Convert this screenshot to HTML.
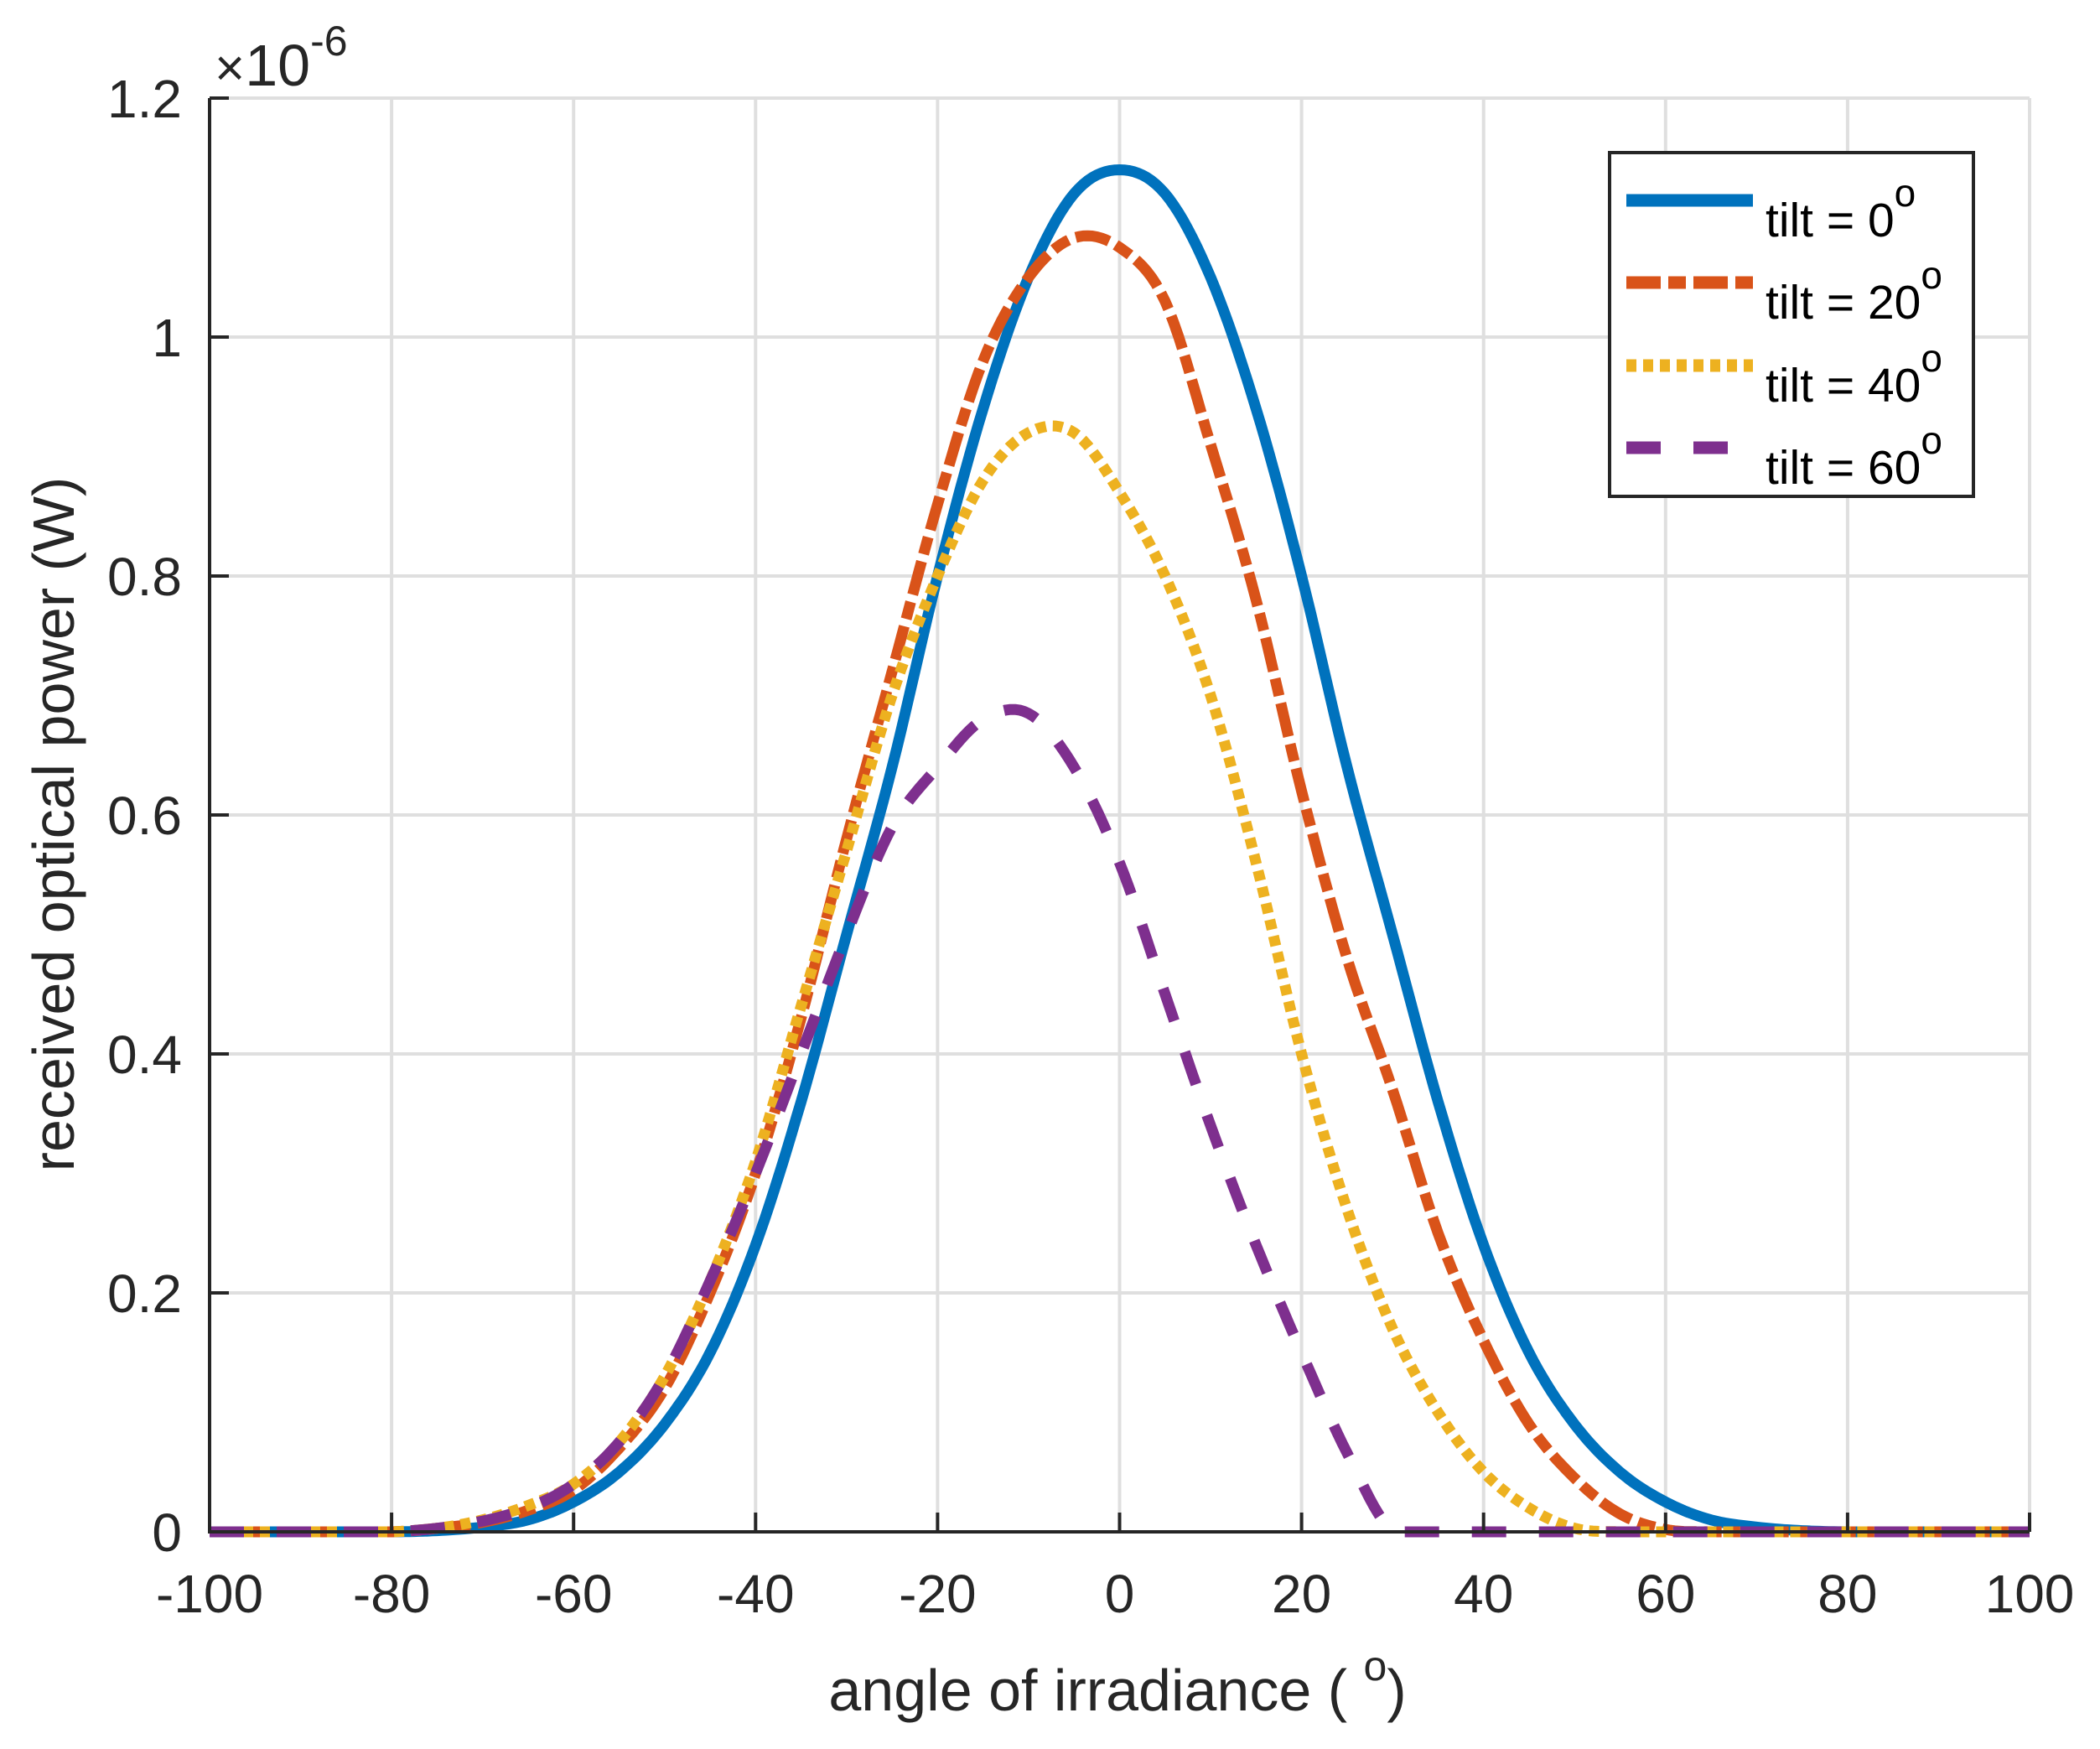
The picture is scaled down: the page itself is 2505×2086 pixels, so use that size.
<!DOCTYPE html>
<html><head><meta charset="utf-8"><style>
html,body{margin:0;padding:0;background:#fff;}
svg{display:block;font-family:"Liberation Sans",Arial,sans-serif;}
</style></head><body>
<svg id="chart" width="2505" height="2086" viewBox="0 0 2505 2086" xmlns="http://www.w3.org/2000/svg">
<rect width="2505" height="2086" fill="#fff"/>
<g id="grid"></g>
<g id="series"></g>
<g id="axes"></g>
<g id="legend"></g>
</svg>
<script>
const angles = [-100,-95,-90,-85,-80,-75,-70,-65,-60,-55,-50,-45,-40,-35,-30,-25,-20,-15,-10,-5,0,5,10,15,20,25,30,35,40,45,50,55,60,65,70,75,80,85,90,95,100];
const tilt0 = [0,0,0,0,0,0.001,0.004,0.01,0.025,0.05,0.09,0.15,0.24,0.36,0.50,0.64,0.80,0.94,1.05,1.12,1.14,1.12,1.05,0.94,0.80,0.64,0.50,0.36,0.24,0.15,0.09,0.05,0.025,0.01,0.004,0.001,0,0,0,0,0];
const tilt20 = [0,0,0,0,0,0.003,0.008,0.018,0.035,0.07,0.12,0.20,0.30,0.43,0.58,0.72,0.86,0.98,1.05,1.083,1.075,1.03,0.91,0.78,0.62,0.48,0.37,0.25,0.16,0.09,0.045,0.015,0.002,0,0,0,0,0,0,0,0];
const tilt40 = [0,0,0,0,0,0.003,0.01,0.022,0.04,0.075,0.13,0.21,0.31,0.44,0.57,0.70,0.80,0.88,0.92,0.92,0.87,0.80,0.70,0.56,0.40,0.27,0.17,0.10,0.05,0.02,0.003,0,0,0,0,0,0,0,0,0,0];
const tilt60 = [0,0,0,0,0,0.003,0.009,0.02,0.04,0.075,0.13,0.21,0.30,0.40,0.50,0.59,0.64,0.68,0.685,0.64,0.56,0.45,0.34,0.24,0.15,0.066,0,0,0,0,0,0,0,0,0,0,0,0,0,0,0];
const xTicks = [-100,-80,-60,-40,-20,0,20,40,60,80,100];
const yTicks = [0,0.2,0.4,0.6,0.8,1,1.2];
const yTickLabels = ["0","0.2","0.4","0.6","0.8","1","1.2"];
const legendLabels = ["0","20","40","60"];

const NS="http://www.w3.org/2000/svg";
const L=250,R=2421,T=117,B=1827;
const X=v=>L+(v+100)/200*(R-L);
const Y=v=>B-v/1.2*(B-T);
function mk(tag,attrs,parent){const e=document.createElementNS(NS,tag);for(const k in attrs)e.setAttribute(k,attrs[k]);parent.appendChild(e);return e;}
const grid=document.getElementById('grid'),axes=document.getElementById('axes'),ser=document.getElementById('series'),leg=document.getElementById('legend');
xTicks.forEach(t=>{
  const g=mk('line',{x1:X(t),x2:X(t),y1:T,y2:B,stroke:'#dfdfdf','stroke-width':4},grid);
  
  
  mk('line',{x1:X(t),x2:X(t),y1:B,y2:B-23,stroke:'#262626','stroke-width':4},axes);
  const tx=mk('text',{x:X(t),y:1923,'text-anchor':'middle','font-size':64,fill:'#262626'},axes);
  tx.textContent=t;
  
  
});
yTicks.forEach((t,i)=>{
  const g=mk('line',{x1:L,x2:R,y1:Y(t),y2:Y(t),stroke:'#dfdfdf','stroke-width':4},grid);
  
  
  mk('line',{x1:L,x2:L+23,y1:Y(t),y2:Y(t),stroke:'#262626','stroke-width':4},axes);
  const tx=mk('text',{x:217,y:Y(t)+23,'text-anchor':'end','font-size':64,fill:'#262626'},axes);
  tx.textContent=yTickLabels[i];
  
  
});
const ya=mk('line',{x1:L,x2:L,y1:T,y2:B+2,stroke:'#262626','stroke-width':4},axes);


const xa=mk('line',{x1:L-2,x2:R,y1:B,y2:B,stroke:'#262626','stroke-width':4},axes);



function path(vals){
  const pts=angles.map((a,i)=>[X(a),Y(vals[i])]);
  let d='M'+pts[0][0]+','+pts[0][1];
  for(let i=0;i<pts.length-1;i++){
    const p0=pts[Math.max(0,i-1)],p1=pts[i],p2=pts[i+1],p3=pts[Math.min(pts.length-1,i+2)];
    for(let s=1;s<=10;s++){
      const t=s/10,t2=t*t,t3=t2*t;
      const f=(a,b,c,d2)=>0.5*((2*b)+(-a+c)*t+(2*a-5*b+4*c-d2)*t2+(-a+3*b-3*c+d2)*t3);
      let y=f(p0[1],p1[1],p2[1],p3[1]); if(y>B)y=B;
      d+=' L'+f(p0[0],p1[0],p2[0],p3[0]).toFixed(1)+','+y.toFixed(1);
    }
  }
  return d;
}
const series=[
 {v:tilt0,c:'#0072bd',dash:'',name:'series-tilt-0'},
 {v:tilt20,c:'#d95319',dash:'41 9 21 9',name:'series-tilt-20'},
 {v:tilt40,c:'#edb120',dash:'12 8',name:'series-tilt-40'},
 {v:tilt60,c:'#7e2f8e',dash:'41 39',name:'series-tilt-60'}];
series.forEach(s=>{
  const p=mk('path',{d:path(s.v),fill:'none',stroke:s.c,'stroke-width':13,'stroke-linejoin':'round'},ser);
  if(s.dash)p.setAttribute('stroke-dasharray',s.dash);
  
  
});
const lb=mk('rect',{x:1920,y:182,width:434,height:410,fill:'#fff',stroke:'#262626','stroke-width':4},leg);


const rows=[239,337,436,534];
series.forEach((s,i)=>{
  const ln=mk('line',{x1:1940,x2:2091,y1:rows[i],y2:rows[i],stroke:s.c,'stroke-width':15},leg);
  if(s.dash)ln.setAttribute('stroke-dasharray',s.dash);
  
  
  const tx=mk('text',{x:2106,y:rows[i]+43,'font-size':57,fill:'#000'},leg);
  tx.textContent='tilt = '+legendLabels[i];
  
  
  const sup=mk('tspan',{dy:-36,'font-size':46},tx);
  sup.textContent='o';
});
</script>
<svg style="position:absolute;left:0;top:0" width="2505" height="2086" xmlns="http://www.w3.org/2000/svg" font-family="Liberation Sans, Arial, sans-serif">
<text x="256" y="102" font-size="62" fill="#262626">×<tspan font-size="70">10</tspan><tspan dy="-36" font-size="50">-6</tspan></text>
<text x="1333" y="2040" text-anchor="middle" font-size="70" fill="#262626">angle of irradiance ( <tspan dy="-36" font-size="50">o</tspan><tspan dy="36">)</tspan></text>
<text transform="translate(88,983) rotate(-90)" text-anchor="middle" font-size="70" fill="#262626">received optical power (W)</text>
</svg>
</body></html>
